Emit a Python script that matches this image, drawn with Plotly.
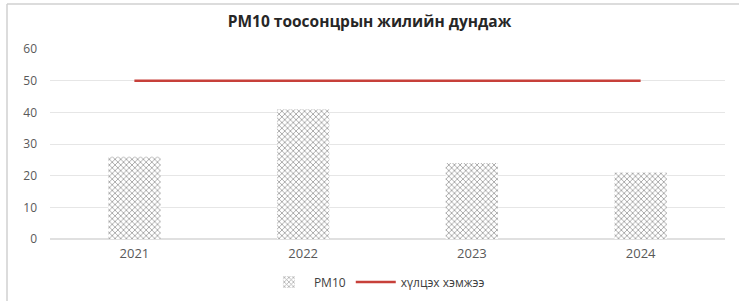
import plotly.graph_objects as go

years = ["2021", "2022", "2023", "2024"]
pm10 = [26, 41, 24, 21]
limit = [50, 50, 50, 50]
y_ticks = [0, 10, 20, 30, 40, 50, 60]

fig = go.Figure()
fig.add_trace(go.Bar(
    x=years, y=pm10, name="PM10", width=0.31,
    marker=dict(color="white", line=dict(width=0),
                pattern=dict(shape="x", fgcolor="#4a4a4a", bgcolor="white",
                             size=4, solidity=0.4)),
))
fig.add_trace(go.Scatter(
    x=years, y=limit, name="хүлцэх хэмжээ", mode="lines",
    line=dict(color="#C7403A", width=2.5),
))

fig.update_layout(
    width=739, height=301,
    margin=dict(l=50, r=14, t=49, b=62),
    paper_bgcolor="white", plot_bgcolor="white",
    font=dict(family="Open Sans, Liberation Sans, sans-serif", size=12, color="#595959"),
    title=dict(text="<b>PM10 тоосонцрын жилийн дундаж</b>", x=0.5, xanchor="center",
               xref="container", yref="container",
               y=1 - 22 / 301, yanchor="middle",
               font=dict(size=15.5, color="#262626")),
    showlegend=True,
    legend=dict(orientation="h", xref="container", yref="container",
                x=0.51, xanchor="center", y=19 / 301, yanchor="middle",
                font=dict(size=12, color="#404040"), itemwidth=40),
    xaxis=dict(showgrid=False, showline=False, ticks="", tickfont=dict(size=13),
               ticklabelstandoff=5),
    yaxis=dict(range=[0, 60], tickvals=y_ticks, showgrid=True, gridcolor="#E6E6E6",
               gridwidth=1, zeroline=True, zerolinecolor="#E0E0E0", showline=False,
               ticks="", ticklabelstandoff=12, tickfont=dict(size=12)),
)
fig.update_yaxes(automargin=False)
fig.update_xaxes(automargin=False)

# thin frame (left and top edges) around the chart
fig.add_shape(type="line", xref="paper", yref="paper", x0=-43 / 675, x1=-43 / 675,
              y0=-62 / 190, y1=45 / 190 + 1, line=dict(color="#D0D0D0", width=1.5))
fig.add_shape(type="line", xref="paper", yref="paper", x0=-43 / 675, x1=689 / 675,
              y0=45 / 190 + 1, y1=45 / 190 + 1, line=dict(color="#D0D0D0", width=1.5))

fig.write_html("out.html", config={"displayModeBar": False},
               post_script="document.body.style.margin='0';document.body.style.overflow='hidden';")
